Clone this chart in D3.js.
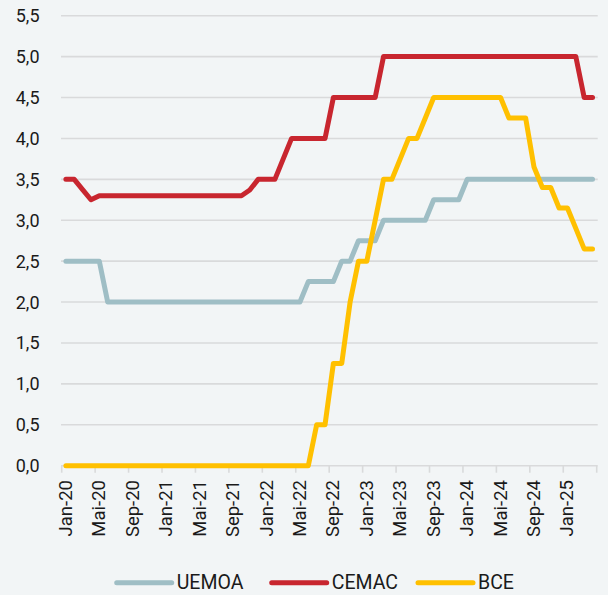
<!DOCTYPE html>
<html>
<head>
<meta charset="utf-8">
<script src="https://cdn.jsdelivr.net/npm/d3@7"></script>
<style>
  html, body { margin: 0; padding: 0; background: #f2f5f6; }
  svg { display: block; }
</style>
</head>
<body>
<svg id="chart"></svg>
<script>
// month labels (French) and years of the monthly axis
const monthNames = ["Jan", "Fév", "Mar", "Avr", "Mai", "Jun", "Jul", "Aoû", "Sep", "Oct", "Nov", "Déc"];
const years = ["20", "21", "22", "23", "24", "25"];
const lastYearMonths = 4; // Jan-25 .. Avr-25

const uemoa = [
  2.5, 2.5, 2.5, 2.5, 2.5, 2.0, 2.0, 2.0, 2.0, 2.0, 2.0, 2.0,
  2.0, 2.0, 2.0, 2.0, 2.0, 2.0, 2.0, 2.0, 2.0, 2.0, 2.0, 2.0,
  2.0, 2.0, 2.0, 2.0, 2.0, 2.25, 2.25, 2.25, 2.25, 2.5, 2.5, 2.75,
  2.75, 2.75, 3.0, 3.0, 3.0, 3.0, 3.0, 3.0, 3.25, 3.25, 3.25, 3.25,
  3.5, 3.5, 3.5, 3.5, 3.5, 3.5, 3.5, 3.5, 3.5, 3.5, 3.5, 3.5,
  3.5, 3.5, 3.5, 3.5
];
const cemac = [
  3.5, 3.5, 3.375, 3.25, 3.3, 3.3, 3.3, 3.3, 3.3, 3.3, 3.3, 3.3,
  3.3, 3.3, 3.3, 3.3, 3.3, 3.3, 3.3, 3.3, 3.3, 3.3, 3.37, 3.5,
  3.5, 3.5, 3.75, 4.0, 4.0, 4.0, 4.0, 4.0, 4.5, 4.5, 4.5, 4.5,
  4.5, 4.5, 5.0, 5.0, 5.0, 5.0, 5.0, 5.0, 5.0, 5.0, 5.0, 5.0,
  5.0, 5.0, 5.0, 5.0, 5.0, 5.0, 5.0, 5.0, 5.0, 5.0, 5.0, 5.0,
  5.0, 5.0, 4.5, 4.5
];
const bce = [
  0, 0, 0, 0, 0, 0, 0, 0, 0, 0, 0, 0,
  0, 0, 0, 0, 0, 0, 0, 0, 0, 0, 0, 0,
  0, 0, 0, 0, 0, 0, 0.5, 0.5, 1.25, 1.25, 2.0, 2.5,
  2.5, 3.0, 3.5, 3.5, 3.75, 4.0, 4.0, 4.25, 4.5, 4.5, 4.5, 4.5,
  4.5, 4.5, 4.5, 4.5, 4.5, 4.25, 4.25, 4.25, 3.65, 3.4, 3.4, 3.15,
  3.15, 2.9, 2.65, 2.65
];
const yTicks = [0, 0.5, 1, 1.5, 2, 2.5, 3, 3.5, 4, 4.5, 5, 5.5];
const seriesNames = ["UEMOA", "CEMAC", "BCE"];
const seriesColors = ["#9fbec5", "#c8262f", "#ffc000"];

const categories = [];
years.forEach((y, yi) => {
  const n = yi === years.length - 1 ? lastYearMonths : 12;
  for (let m = 0; m < n; m++) categories.push(monthNames[m] + "-" + y);
});

const width = 608, height = 595;
const svg = d3.select("#chart").attr("width", width).attr("height", height);
svg.append("rect").attr("width", width).attr("height", height).attr("fill", "#f2f5f6");

const xScale = d3.scaleBand().domain(categories).range([61.7, 596.7]).paddingInner(0).paddingOuter(0);
const yScale = d3.scaleLinear().domain([0, 5.5]).range([465.7, 15.7]);
const xc = c => xScale(c) + xScale.bandwidth() / 2;

// gridlines
svg.append("g").selectAll("line").data(yTicks).join("line")
  .attr("x1", 61).attr("x2", 597.7)
  .attr("y1", d => yScale(d)).attr("y2", d => yScale(d))
  .attr("stroke", "#d9dadb").attr("stroke-width", 1.6);

// y labels
svg.append("g").selectAll("text").data(yTicks).join("text")
  .attr("x", 39.5).attr("y", d => yScale(d))
  .attr("text-anchor", "end").attr("dominant-baseline", "central")
  .attr("font-family", "Roboto, sans-serif").attr("font-size", 18)
  .attr("fill", "#1a1a1a")
  .text(d => d3.format(".1f")(d).replace(".", ","));

// x axis ticks every 4 months (category boundaries)
const tickCats = categories.filter((c, i) => i % 4 === 0);
const x0 = yScale(0);
svg.append("g").selectAll("line").data(tickCats.concat([null])).join("line")
  .attr("x1", d => d === null ? xScale.range()[1] : xScale(d))
  .attr("x2", d => d === null ? xScale.range()[1] : xScale(d))
  .attr("y1", x0).attr("y2", x0 + 7)
  .attr("stroke", "#d9dadb").attr("stroke-width", 1.6);

svg.append("g").selectAll("text").data(tickCats).join("text")
  .attr("transform", d => `translate(${xc(d)},480) rotate(-90)`)
  .attr("text-anchor", "end").attr("dominant-baseline", "central")
  .attr("font-family", "Roboto, sans-serif").attr("font-size", 18.5)
  .attr("fill", "#1a1a1a")
  .text(d => d);

// series lines
const seriesData = [uemoa, cemac, bce];
const line = d3.line()
  .x((d, i) => xc(categories[i]))
  .y(d => yScale(d));
svg.append("g").selectAll("path").data(seriesData).join("path")
  .attr("d", d => line(d))
  .attr("fill", "none")
  .attr("stroke", (d, i) => seriesColors[i])
  .attr("stroke-width", 5)
  .attr("stroke-linejoin", "round")
  .attr("stroke-linecap", "round");

// legend
const legendX = [116.7, 271.7, 418];
const legend = svg.append("g").selectAll("g").data(seriesNames).join("g")
  .attr("transform", (d, i) => `translate(${legendX[i]},582.7)`);
legend.append("line")
  .attr("x1", 0).attr("x2", 55).attr("y1", 0).attr("y2", 0)
  .attr("stroke", (d, i) => seriesColors[i])
  .attr("stroke-width", 5).attr("stroke-linecap", "round");
legend.append("text")
  .attr("x", 60).attr("y", 0)
  .attr("dominant-baseline", "central")
  .attr("font-family", "Roboto, sans-serif").attr("font-size", 19.5)
  .attr("fill", "#1a1a1a")
  .text(d => d);
</script>
</body>
</html>
